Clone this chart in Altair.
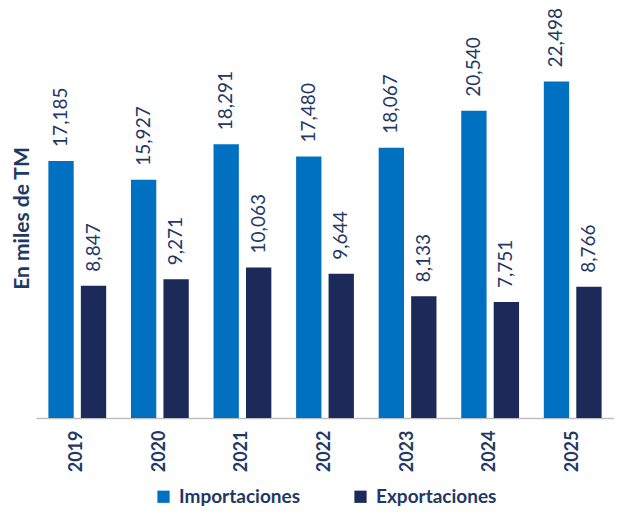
import altair as alt
import pandas as pd

years = ["2019", "2020", "2021", "2022", "2023", "2024", "2025"]
importaciones = [17185, 15927, 18291, 17480, 18067, 20540, 22498]
exportaciones = [8847, 9271, 10063, 9644, 8133, 7751, 8766]
series = ["Importaciones", "Exportaciones"]
colors = ["#0070C0", "#1C2A59"]

rows = []
for i, y in enumerate(years):
    rows.append({"year": y, "serie": series[0], "valor": importaciones[i]})
    rows.append({"year": y, "serie": series[1], "valor": exportaciones[i]})
df = pd.DataFrame(rows)

FONT = "Lato"
NAVY = "#1F3864"

x = alt.X("year:N", sort=years, title=None,
          scale=alt.Scale(paddingInner=0.30, paddingOuter=0.15),
          axis=alt.Axis(labelAngle=-90, labelFont=FONT, labelFontSize=18,
                        labelFontWeight="bold", labelColor=NAVY, ticks=False,
                        domainColor="#BFBFBF", domainWidth=1.5, labelPadding=12,
                        labelAlign="right", labelBaseline="middle"))
xo = alt.XOffset("serie:N", sort=series,
                 scale=alt.Scale(paddingInner=0.22, paddingOuter=0))
y = alt.Y("valor:Q", scale=alt.Scale(domain=[0, 25000], nice=False),
          axis=alt.Axis(title="En miles de TM", labels=False, ticks=False,
                        domain=False, grid=False, titleFont=FONT,
                        titleFontSize=21, titleFontWeight="bold",
                        titleColor=NAVY, titleAngle=-90, titleX=-14,
                        titleY=174, titleAlign="center",
                        titleBaseline="middle"))

bars = alt.Chart(df).mark_bar().encode(
    x=x, xOffset=xo, y=y,
    color=alt.Color("serie:N", sort=series,
                    scale=alt.Scale(domain=series, range=colors),
                    legend=alt.Legend(title=None, orient="none",
                                      direction="horizontal", legendX=118,
                                      legendY=443, symbolType="square",
                                      symbolSize=150, symbolStrokeWidth=0,
                                      labelFont=FONT, labelFontSize=19,
                                      labelFontWeight="bold",
                                      labelColor=NAVY, columnPadding=50,
                                      labelOffset=6)),
)

labels = alt.Chart(df).mark_text(
    angle=270, align="left", baseline="middle", dx=14,
    font=FONT, fontSize=19, color=NAVY
).encode(
    x=alt.X("year:N", sort=years), xOffset=alt.XOffset("serie:N", sort=series),
    y="valor:Q",
    text=alt.Text("valor:Q", format=",")
)

chart = alt.layer(bars, labels).properties(
    width=578, height=374,
    autosize=alt.AutoSizeParams(type="none"),
    padding={"left": 28, "top": 36, "right": 0, "bottom": 90},
).configure_view(stroke=None)

chart.save("out.html", embed_options={"renderer": "svg", "actions": False})
